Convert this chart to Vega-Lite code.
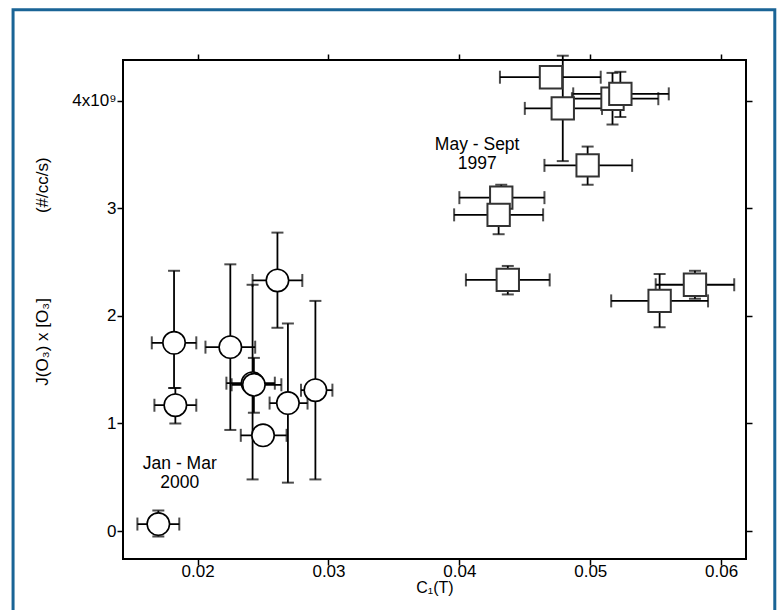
{
  "$schema": "https://vega.github.io/schema/vega-lite/v6.json",
  "width": 623,
  "height": 499,
  "autosize": {"type": "none"},
  "padding": {"left": 123, "top": 60, "right": 32, "bottom": 51},
  "background": "white",
  "config": {
    "font": "Liberation Sans",
    "view": {"stroke": "black", "strokeWidth": 2},
    "axis": {
      "grid": false,
      "domain": false,
      "tickColor": "black",
      "tickSize": 6,
      "tickWidth": 1.5,
      "labelColor": "black",
      "labelFont": "Liberation Sans",
      "labelFontSize": 17,
      "titleColor": "black",
      "titleFont": "Liberation Sans",
      "titleFontWeight": "normal"
    }
  },
  "datasets": {
    "points": [
      {"group": "Jan - Mar 2000", "x": 0.0182, "xlo": 0.0165, "xhi": 0.0199, "y": 1.75, "ylo": 1.33, "yhi": 2.42},
      {"group": "Jan - Mar 2000", "x": 0.0183, "xlo": 0.0167, "xhi": 0.0199, "y": 1.17, "ylo": 1.0, "yhi": 1.33},
      {"group": "Jan - Mar 2000", "x": 0.0225, "xlo": 0.0206, "xhi": 0.0244, "y": 1.71, "ylo": 0.94, "yhi": 2.48},
      {"group": "Jan - Mar 2000", "x": 0.0261, "xlo": 0.0242, "xhi": 0.028, "y": 2.33, "ylo": 1.89, "yhi": 2.775},
      {"group": "Jan - Mar 2000", "x": 0.0242, "xlo": 0.0222, "xhi": 0.0259, "y": 1.375, "ylo": 0.48, "yhi": 2.29},
      {"group": "Jan - Mar 2000", "x": 0.0243, "xlo": 0.0226, "xhi": 0.0264, "y": 1.36, "ylo": 1.1, "yhi": 1.61},
      {"group": "Jan - Mar 2000", "x": 0.025, "xlo": 0.0233, "xhi": 0.0268, "y": 0.89, "ylo": 0.85, "yhi": 0.93},
      {"group": "Jan - Mar 2000", "x": 0.0269, "xlo": 0.0255, "xhi": 0.0284, "y": 1.19, "ylo": 0.45, "yhi": 1.93},
      {"group": "Jan - Mar 2000", "x": 0.029, "xlo": 0.0279, "xhi": 0.0303, "y": 1.31, "ylo": 0.48, "yhi": 2.14},
      {"group": "Jan - Mar 2000", "x": 0.017, "xlo": 0.0154, "xhi": 0.0186, "y": 0.065, "ylo": -0.05, "yhi": 0.19},
      {"group": "May - Sept 1997", "x": 0.047, "xlo": 0.0431, "xhi": 0.0508, "y": 4.22, "ylo": 4.15, "yhi": 4.28},
      {"group": "May - Sept 1997", "x": 0.0479, "xlo": 0.045, "xhi": 0.0509, "y": 3.93, "ylo": 3.44, "yhi": 4.42},
      {"group": "May - Sept 1997", "x": 0.0517, "xlo": 0.0486, "xhi": 0.0552, "y": 4.02, "ylo": 3.78, "yhi": 4.26},
      {"group": "May - Sept 1997", "x": 0.0523, "xlo": 0.0487, "xhi": 0.056, "y": 4.065, "ylo": 3.85, "yhi": 4.27},
      {"group": "May - Sept 1997", "x": 0.0498, "xlo": 0.0465, "xhi": 0.0532, "y": 3.4, "ylo": 3.22, "yhi": 3.575},
      {"group": "May - Sept 1997", "x": 0.0432, "xlo": 0.04, "xhi": 0.0465, "y": 3.1, "ylo": 3.05, "yhi": 3.22},
      {"group": "May - Sept 1997", "x": 0.043, "xlo": 0.0396, "xhi": 0.0464, "y": 2.94, "ylo": 2.76, "yhi": 3.0},
      {"group": "May - Sept 1997", "x": 0.0437, "xlo": 0.0405, "xhi": 0.0469, "y": 2.335, "ylo": 2.2, "yhi": 2.465},
      {"group": "May - Sept 1997", "x": 0.0553, "xlo": 0.0516, "xhi": 0.059, "y": 2.14, "ylo": 1.895, "yhi": 2.39},
      {"group": "May - Sept 1997", "x": 0.058, "xlo": 0.055, "xhi": 0.061, "y": 2.29, "ylo": 2.16, "yhi": 2.42}
    ],
    "notes": [
      {"label": ["Jan - Mar", "2000"], "x": 0.01864, "y": 0.628},
      {"label": ["May - Sept", "1997"], "x": 0.04136, "y": 3.588}
    ]
  },
  "layer": [
    {
      "data": {"name": "points"},
      "mark": {"type": "errorbar", "color": "black", "ticks": {"size": 13, "thickness": 2, "color": "black"}, "rule": {"strokeWidth": 1.8, "color": "black"}},
      "encoding": {
        "x": {
          "field": "xlo", "type": "quantitative",
          "scale": {"domain": [0.0143, 0.0619], "nice": false, "zero": false},
          "axis": {"orient": "bottom", "values": [0.02, 0.03, 0.04, 0.05, 0.06], "format": ".2f", "labelPadding": -2, "title": "C₁(T)", "titleFontSize": 16, "titlePadding": 0}
        },
        "x2": {"field": "xhi"},
        "y": {
          "field": "y", "type": "quantitative",
          "scale": {"domain": [-0.26, 4.38], "nice": false, "zero": false},
          "axis": {
            "orient": "left", "values": [0, 1, 2, 3, 4], "format": "d",
            "labelExpr": "datum.value == 4 ? '4x10⁹' : datum.label",
            "labelPadding": 1,
            "title": "J(O₃) x [O₃]\u00a0\u00a0\u00a0\u00a0\u00a0\u00a0\u00a0\u00a0\u00a0\u00a0\u00a0\u00a0\u00a0\u00a0\u00a0\u00a0\u00a0\u00a0(#/cc/s)",
            "titleFontSize": 17, "titleAngle": 270, "titleAlign": "center", "titleBaseline": "alphabetic",
            "titleX": -76, "titleY": 211
          }
        }
      }
    },
    {
      "data": {"name": "points"},
      "mark": {"type": "errorbar", "color": "black", "ticks": {"size": 12, "thickness": 2, "color": "black"}, "rule": {"strokeWidth": 1.8, "color": "black"}},
      "encoding": {
        "x": {
          "field": "x", "type": "quantitative",
          "axis": {"orient": "top", "values": [0.02, 0.03, 0.04, 0.05, 0.06], "labels": false, "title": null}
        },
        "y": {
          "field": "ylo", "type": "quantitative",
          "axis": {"orient": "right", "values": [0, 1, 2, 3, 4], "labels": false, "title": null}
        },
        "y2": {"field": "yhi"}
      }
    },
    {
      "data": {"name": "points"},
      "transform": [{"filter": "datum.group == 'Jan - Mar 2000'"}],
      "mark": {"type": "point", "shape": "circle", "size": 500, "filled": true, "fill": "white", "stroke": "black", "strokeWidth": 1.6, "opacity": 1},
      "encoding": {
        "x": {"field": "x", "type": "quantitative", "axis": null},
        "y": {"field": "y", "type": "quantitative", "axis": null}
      }
    },
    {
      "data": {"name": "points"},
      "transform": [{"filter": "datum.group == 'May - Sept 1997'"}],
      "mark": {"type": "point", "shape": "square", "size": 500, "filled": true, "fill": "white", "stroke": "#333333", "strokeWidth": 2, "opacity": 1},
      "encoding": {
        "x": {"field": "x", "type": "quantitative", "axis": null},
        "y": {"field": "y", "type": "quantitative", "axis": null}
      }
    },
    {
      "data": {"name": "notes"},
      "mark": {"type": "text", "font": "Liberation Sans", "fontSize": 17.5, "color": "black", "align": "center", "baseline": "middle", "lineHeight": 19},
      "encoding": {
        "x": {"field": "x", "type": "quantitative", "axis": null},
        "y": {"field": "y", "type": "quantitative", "axis": null},
        "text": {"field": "label"}
      }
    },
    {
      "data": {"values": [{}]},
      "mark": {"type": "rect", "fill": null, "fillOpacity": 0, "stroke": "#1a6496", "strokeWidth": 3, "clip": false},
      "encoding": {
        "x": {"datum": 0.0059, "type": "quantitative", "axis": null},
        "x2": {"datum": 0.0641},
        "y": {"datum": 4.847, "type": "quantitative", "axis": null},
        "y2": {"datum": -0.85}
      }
    }
  ],
  "resolve": {"axis": {"x": "independent", "y": "independent"}}
}
